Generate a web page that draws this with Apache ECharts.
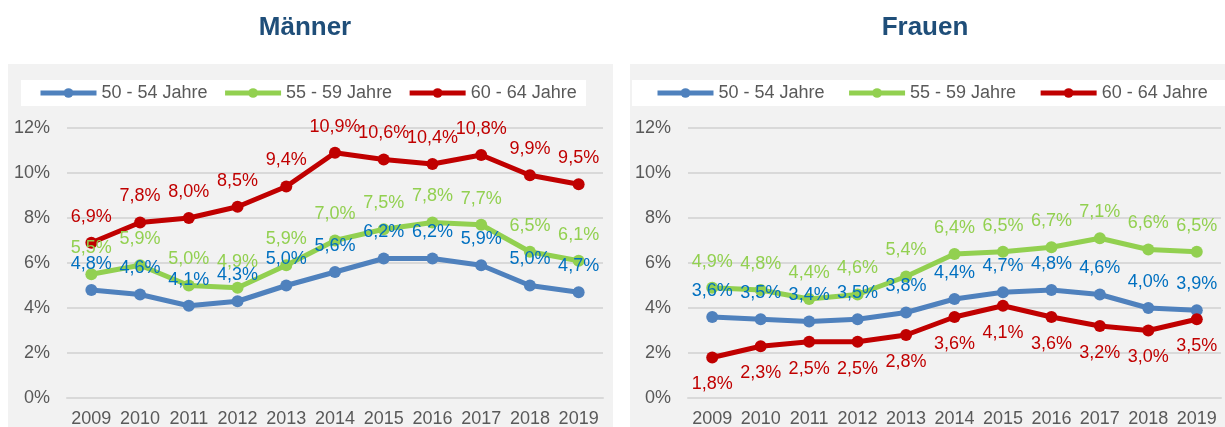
<!DOCTYPE html>
<html>
<head>
<meta charset="utf-8">
<script src="https://cdn.jsdelivr.net/npm/echarts@6/dist/echarts.min.js"></script>
<style>
    html, body { margin: 0; padding: 0; background: #fff; }
    #chart { width: 1225px; height: 427px; }
</style>
</head>
<body>
<div id="chart"></div>
<script>
var years = ['2009', '2010', '2011', '2012', '2013', '2014', '2015', '2016', '2017', '2018', '2019'];
var seriesNames = ['50 - 54 Jahre', '55 - 59 Jahre', '60 - 64 Jahre'];

// Männer
var maenner5054 = [4.8, 4.6, 4.1, 4.3, 5.0, 5.6, 6.2, 6.2, 5.9, 5.0, 4.7];
var maenner5559 = [5.5, 5.9, 5.0, 4.9, 5.9, 7.0, 7.5, 7.8, 7.7, 6.5, 6.1];
var maenner6064 = [6.9, 7.8, 8.0, 8.5, 9.4, 10.9, 10.6, 10.4, 10.8, 9.9, 9.5];

// Frauen
var frauen5054 = [3.6, 3.5, 3.4, 3.5, 3.8, 4.4, 4.7, 4.8, 4.6, 4.0, 3.9];
var frauen5559 = [4.9, 4.8, 4.4, 4.6, 5.4, 6.4, 6.5, 6.7, 7.1, 6.6, 6.5];
var frauen6064 = [1.8, 2.3, 2.5, 2.5, 2.8, 3.6, 4.1, 3.6, 3.2, 3.0, 3.5];

var yMin = 0, yMax = 12, yStep = 2;

var FONT = '"Liberation Sans", Arial, sans-serif';
var lineColors = ['#4F81BD', '#92D050', '#C00000'];
var labelColors = ['#0070C0', '#92D050', '#C00000'];

function pct(p) {
    return p.value.toFixed(1).replace('.', ',') + '%';
}

function makeSeries(name, data, idx, axis, pos) {
    return {
        name: name,
        type: 'line',
        xAxisIndex: axis,
        yAxisIndex: axis,
        data: data,
        symbol: 'circle',
        symbolSize: 12,
        color: lineColors[idx],
        lineStyle: { width: 5, color: lineColors[idx] },
        itemStyle: { color: lineColors[idx] },
        label: {
            show: true,
            position: pos,
            distance: pos == 'top' ? 11 : 12,
            color: labelColors[idx],
            fontSize: 18,
            fontFamily: FONT,
            formatter: pct
        },
        emphasis: { disabled: true },
        animation: false
    };
}

// legend boxes are drawn as graphic rects, legend itself is transparent
function makeLegend(left, gap) {
    return {
        left: left,
        top: 84,
        orient: 'horizontal',
        data: seriesNames,
        padding: 0,
        itemGap: gap,
        itemWidth: 56,
        itemHeight: 12,
        lineStyle: { width: 5 },
        textStyle: { color: '#595959', fontSize: 18, fontFamily: FONT },
        selectedMode: false
    };
}

function xAxisFor(idx) {
    return {
        type: 'category',
        gridIndex: idx,
        data: years,
        boundaryGap: true,
        axisLine: { show: true, lineStyle: { color: '#D9D9D9', width: 2 } },
        axisTick: { show: false },
        axisLabel: { color: '#595959', fontSize: 18, fontFamily: FONT, margin: 12, interval: 0 }
    };
}

function yAxisFor(idx) {
    return {
        type: 'value',
        gridIndex: idx,
        min: yMin,
        max: yMax,
        interval: yStep,
        axisLine: { show: false },
        axisTick: { show: false },
        splitLine: { lineStyle: { color: '#D9D9D9', width: 2 } },
        axisLabel: { color: '#595959', fontSize: 18, fontFamily: FONT, margin: 17, formatter: '{value}%' }
    };
}

function titleText(x, text) {
    return {
        type: 'text', x: x, y: 28,
        style: {
            text: text, textAlign: 'center', align: 'center',
            textVerticalAlign: 'middle', verticalAlign: 'middle',
            font: 'bold 26px ' + FONT, fill: '#1F4E79'
        }
    };
}

var chart = echarts.init(document.getElementById('chart'), null, { renderer: 'canvas' });

var option = {
    backgroundColor: '#fff',
    animation: false,
    graphic: [
        { type: 'rect', z: -10, shape: { x: 8, y: 64, width: 605, height: 363 }, style: { fill: '#F2F2F2' } },
        { type: 'rect', z: -10, shape: { x: 630, y: 64, width: 595, height: 363 }, style: { fill: '#F2F2F2' } },
        { type: 'rect', z: -9, shape: { x: 21, y: 80, width: 565, height: 26 }, style: { fill: '#fff' } },
        { type: 'rect', z: -9, shape: { x: 632, y: 80, width: 593, height: 26 }, style: { fill: '#fff' } },
        titleText(305, 'Männer'),
        titleText(925, 'Frauen')
    ],
    legend: [
        makeLegend(38, 15),
        makeLegend(655, 22)
    ],
    grid: [
        { left: 67, right: 622, top: 128, bottom: 29, outerBoundsMode: 'none', containLabel: false },
        { left: 688, right: 4, top: 128, bottom: 29, outerBoundsMode: 'none', containLabel: false }
    ],
    xAxis: [xAxisFor(0), xAxisFor(1)],
    yAxis: [yAxisFor(0), yAxisFor(1)],
    series: [
        makeSeries(seriesNames[0], maenner5054, 0, 0, 'top'),
        makeSeries(seriesNames[1], maenner5559, 1, 0, 'top'),
        makeSeries(seriesNames[2], maenner6064, 2, 0, 'top'),
        makeSeries(seriesNames[0], frauen5054, 0, 1, 'top'),
        makeSeries(seriesNames[1], frauen5559, 1, 1, 'top'),
        makeSeries(seriesNames[2], frauen6064, 2, 1, 'bottom')
    ]
};

chart.setOption(option);
</script>
</body>
</html>
